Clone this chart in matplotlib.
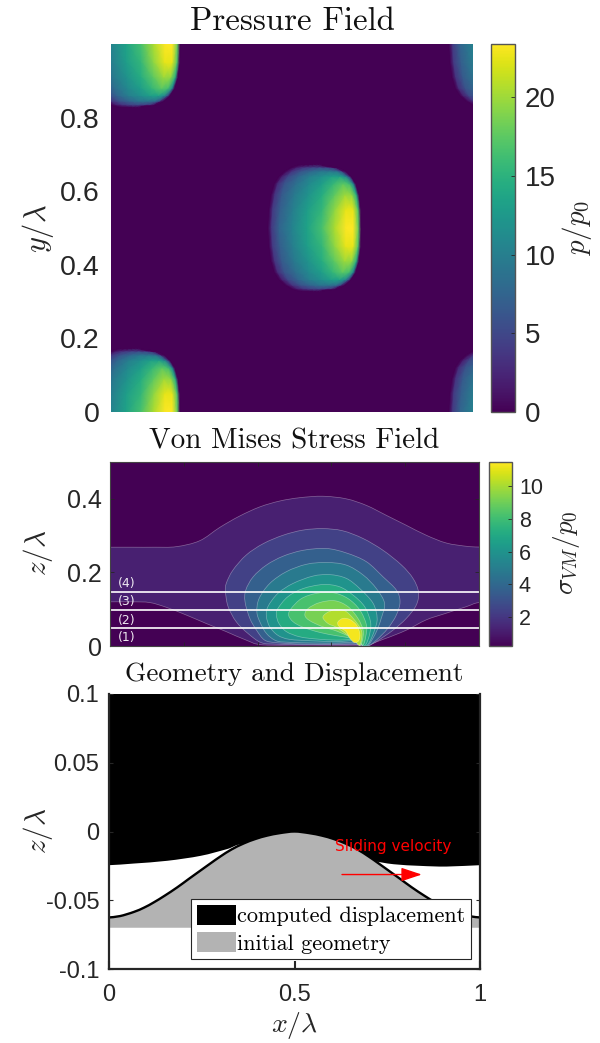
import matplotlib
matplotlib.use('Agg')
import matplotlib.pyplot as plt
from matplotlib.cm import ScalarMappable
from matplotlib.colors import Normalize
from matplotlib.patches import Patch, PathPatch
from matplotlib.path import Path
import numpy as np

plt.rcParams['font.family'] = ['Liberation Sans', 'DejaVu Sans']
plt.rcParams['mathtext.fontset'] = 'cm'
plt.rcParams['axes.formatter.use_mathtext'] = False

# pressure patch (one contact spot, repeated periodically)
# rows go from the middle of the patch to its top edge, each with its own left and right limit
patch_y = [0.0, 0.05, 0.09, 0.12, 0.14, 0.155, 0.165, 0.171]
patch_left = [.434, .437, .443, .452, .465, .482, .50, .52]
patch_right = [.690, .689, .684, .675, .662, .645, .625, .585]
patch_frac = [0, .04, .12, .26, .42, .58, .72, .84, .92, .975, 1]
patch_p = [
    [0, 4.0, 7.5, 10.5, 13.5, 16.5, 20.5, 23.4, 23.4, 18.0, 0],
    [0, 4.0, 7.0, 10.0, 13.0, 15.5, 19.5, 22.5, 22.5, 17.0, 0],
    [0, 3.5, 6.5, 9.5, 12.0, 14.5, 17.5, 20.0, 19.5, 14.5, 0],
    [0, 3.0, 6.0, 8.5, 11.0, 13.0, 15.5, 17.5, 16.5, 11.0, 0],
    [0, 2.0, 5.0, 7.5, 10.0, 11.5, 13.0, 13.5, 11.5, 6.0, 0],
    [0, 1.0, 3.5, 6.0, 7.5, 9.0, 9.0, 8.5, 6.0, 1.0, 0],
    [0, 0.5, 2.0, 3.5, 4.5, 5.0, 4.5, 3.5, 1.5, 0, 0],
    [0, 0, 0, 0, 0, 0, 0, 0, 0, 0, 0],
]
patch_shifts = [(0, 0), (-0.5, -0.5), (0.5, -0.5), (-0.5, 0.5), (0.5, 0.5)]
p_max = 23.4

# von Mises iso-contours
vm_levels = [1.2, 2.4, 3.6, 4.8, 6.0, 7.1, 8.2, 9.2, 10.2, 11.3]
vm_x = [
    [-.06, 0, .06, .12, .180, .243, .297, .351, .406, .460, .514, .577, .640, .695, .749, .803, .857, .911, .966, 1, 1.06,
     1.06, 1, .966, .911, .857, .803, .740, .686, .55, .415, .369, .315, .261, .207, .153, .108, .062, 0, -.06],
    [.320, .313, .315, .333, .369, .415, .469, .523, .577, .631, .686, .740, .790, .821, .836, .830, .803, .767, .722,
     .699, .686, .680, .659, .604, .523, .451, .410, .374, .342],
    [.366, .368, .388, .424, .469, .523, .586, .640, .695, .740, .776, .786, .776, .753, .722,
     .699, .678, .659, .604, .523, .451, .419, .397, .379],
    [.398, .404, .433, .478, .532, .586, .640, .686, .722, .744, .735, .722, .704,
     .695, .678, .659, .613, .550, .487, .451, .424, .406],
    [.424, .428, .455, .496, .550, .595, .640, .677, .713, .724, .717, .704,
     .693, .677, .659, .613, .550, .487, .455, .433],
    [.451, .455, .482, .523, .577, .622, .659, .690, .706, .704, .695,
     .687, .677, .659, .613, .559, .514, .478, .458],
    [.484, .491, .519, .559, .604, .645, .677, .695, .693, .686,
     .675, .654, .613, .568, .523, .496],
    [.528, .537, .568, .609, .645, .672, .686, .684, .677, .669, .650, .613, .577, .541],
    [.577, .586, .609, .636, .659, .681, .681, .675, .663, .645, .613, .591],
    [.618, .631, .650, .668, .677, .675, .663, .650, .640, .627, .618],
]
vm_z = [
    [.2685, .2685, .2685, .2685, .2700, .286, .322, .353, .378, .394, .403, .407, .400, .382, .355, .328, .301, .280, .271, .269, .269,
     .118, .118, .107, .089, .071, .043, .018, .003, .003, .003, .016, .039, .061, .084, .105, .118, .120, .120, .120],
    [.107, .147, .170, .206, .247, .278, .301, .315, .319, .313, .292, .260, .220, .184, .147, .111, .075, .043, .012,
     0, .001, .002, .004, .003, .003, .005, .009, .034, .066],
    [.120, .152, .188, .220, .244, .260, .265, .253, .229, .188, .152, .120, .084, .048, .016,
     0, .003, .006, .005, .005, .009, .016, .043, .075],
    [.093, .129, .170, .202, .222, .227, .220, .193, .156, .116, .075, .039, .007,
     0, .005, .010, .008, .008, .010, .014, .034, .066],
    [.080, .107, .143, .170, .190, .194, .184, .156, .116, .075, .043, .012,
     0, .006, .014, .012, .014, .018, .029, .052],
    [.084, .102, .134, .156, .167, .161, .138, .107, .066, .034, .007,
     0, .009, .017, .016, .019, .025, .039, .061],
    [.084, .102, .129, .143, .145, .129, .098, .057, .025, .003,
     .012, .021, .028, .037, .051, .066],
    [.084, .102, .118, .123, .107, .075, .043, .016, 0, .014, .025, .041, .052, .069],
    [.077, .089, .099, .096, .075, .043, .016, .002, .014, .029, .051, .061],
    [.066, .075, .072, .057, .034, .016, .009, .021, .039, .048, .057],
]
vm_min = 0.2
vm_max = 11.5
layer_z = [0.146, 0.097, 0.048]
layer_names = ['(4)', '(3)', '(2)', '(1)']
layer_name_z = [0.170, 0.121, 0.069, 0.0235]

# geometry
surf_x = [0, .03, .067, .095, .121, .15, .184, .215, .247, .275, .30, .33, .363, .395, .426, .46, .50,
          .54, .574, .605, .637, .67, .70, .725, .753, .785, .816, .85, .879, .905, .933, .97, 1]
surf_z = [-.0625, -.0615, -.0585, -.0553, -.0515, -.0467, -.0406, -.0345, -.0283, -.0229, -.0182, -.0131, -.0087,
          -.0054, -.0030, -.0012, 0,
          -.0012, -.0030, -.0054, -.0087, -.0131, -.0182, -.0229, -.0283, -.0345, -.0406, -.0467, -.0515, -.0553,
          -.0585, -.0615, -.0625]
gap_x = [-.05, 0, .067, .157, .247, .318, .363, .45, .55, .63, .704, .767, .839, .910, 1, 1.05, 1.05, -.05]
gap_z = [-.0245, -.0245, -.0233, -.0213, -.0177, -.0128, -.0092, -.0135, -.0175, -.0200, -.0213, -.0238, -.0250,
         -.0255, -.0245, -.0245, .12, .12]
base_z = -0.07

W, H = 600, 1043
dark = '#262626'


def px_axes(fig, left, top, right, bottom):
    """Axes from a pixel box measured from the top left of the figure."""
    return fig.add_axes([left / W, 1 - bottom / H, (right - left) / W, (bottom - top) / H])


def style_cbar(cax, size, pad):
    cax.yaxis.set_ticks_position('right')
    cax.tick_params(direction='in', length=3, width=0.6, labelsize=size, colors=dark, pad=pad)
    for s in cax.spines.values():
        s.set_edgecolor('#555555')
        s.set_linewidth(1.0)


def smooth_path(xs, ys, closed=True):
    """Bezier path that goes through the given points, so the outlines do not look faceted."""
    pts = np.column_stack([xs, ys])
    n = len(pts)
    if closed:
        before, after = np.roll(pts, 1, axis=0), np.roll(pts, -1, axis=0)
    else:
        before, after = np.vstack([pts[0], pts[:-1]]), np.vstack([pts[1:], pts[-1]])
    tang = (after - before) / 6
    verts = [pts[0]]
    codes = [Path.MOVETO]
    for i in range(n if closed else n - 1):
        j = (i + 1) % n
        verts += [pts[i] + tang[i], pts[j] - tang[j], pts[j]]
        codes += [Path.CURVE4] * 3
    return Path(verts, codes)


fig = plt.figure(figsize=(W / 100, H / 100), dpi=100)
cmap = plt.get_cmap('viridis')

# --- pressure field
ax1 = px_axes(fig, 111, 44, 473, 412)
ax1.set_facecolor(cmap(0.0))
rows = np.array(patch_p, dtype=float)
full_p = np.vstack([rows[:0:-1], rows])
half_y = np.array(patch_y)
full_y = np.concatenate([0.5 - half_y[:0:-1], 0.5 + half_y])
left_edge = np.array(patch_left[:0:-1] + patch_left)
right_edge = np.array(patch_right[:0:-1] + patch_right)
mesh_x = left_edge[:, None] + np.outer(right_edge - left_edge, patch_frac)
mesh_y = np.repeat(full_y[:, None], len(patch_frac), axis=1)
for dx, dy in patch_shifts:
    ax1.pcolormesh(mesh_x + dx, mesh_y + dy, full_p, shading='gouraud',
                   cmap=cmap, vmin=0, vmax=p_max)
ax1.set_xlim(0, 1)
ax1.set_ylim(0, 1)
ax1.set_xticks([])
ax1.set_yticks([0, 0.2, 0.4, 0.6, 0.8])
ax1.set_yticklabels(['0', '0.2', '0.4', '0.6', '0.8'])
ax1.tick_params(axis='y', length=0, labelsize=20.5, colors=dark, pad=8)
for s in ax1.spines.values():
    s.set_visible(False)
ax1.set_title('Pressure Field', family='cmr10', fontsize=23.6, pad=10, color='#111111')
fig.text(38 / W, 1 - 228 / H, r'$y/\lambda$', fontsize=22, rotation=90, ha='center', va='center', color=dark)

cax1 = px_axes(fig, 491, 44, 515, 412)
fig.colorbar(ScalarMappable(Normalize(0, p_max), cmap), cax=cax1, ticks=[0, 5, 10, 15, 20])
style_cbar(cax1, 20, 7)
cax1.set_yticklabels(['0', '5', '10', '15', '20'])
fig.text(577 / W, 1 - 228 / H, r'$p/p_0$', fontsize=21, rotation=90, ha='center', va='center', color=dark)

# --- von Mises field
ax2 = px_axes(fig, 110, 462, 479, 646)
vm_norm = Normalize(vm_min, vm_max)
ax2.set_facecolor(cmap(0.0))
for level, xs, zs in zip(vm_levels, vm_x, vm_z):
    ax2.add_patch(PathPatch(smooth_path(xs, zs), facecolor=cmap(vm_norm(level)),
                            edgecolor=(1, 1, 1, 0.35), linewidth=0.5))
for z in layer_z:
    ax2.axhline(z, color='white', linewidth=1.2)
for name, z in zip(layer_names, layer_name_z):
    ax2.text(0.044, z, name, family='DejaVu Sans', color='white', fontsize=9, ha='center', va='center', alpha=0.9)
ax2.set_xlim(0, 1)
ax2.set_ylim(0, 0.5)
ax2.set_xticks([0.2, 0.4, 0.6, 0.8])
ax2.set_xticklabels([])
ax2.set_yticks([0, 0.2, 0.4])
ax2.set_yticklabels(['0', '0.2', '0.4'])
ax2.tick_params(direction='in', length=3, width=0.6, top=True, right=True, labelsize=18, colors=dark, pad=6)
for s in ax2.spines.values():
    s.set_edgecolor('#444444')
    s.set_linewidth(0.8)
ax2.set_title('Von Mises Stress Field', family='cmr10', fontsize=20.9, pad=10, color='#111111')
fig.text(38 / W, 1 - 553 / H, r'$z/\lambda$', fontsize=21, rotation=90, ha='center', va='center', color=dark)

cax2 = px_axes(fig, 489, 462, 512, 646)
fig.colorbar(ScalarMappable(vm_norm, cmap), cax=cax2, ticks=[2, 4, 6, 8, 10])
style_cbar(cax2, 15.5, 5)
cax2.set_yticklabels(['2', '4', '6', '8', '10'])
fig.text(567 / W, 1 - 553 / H, r'$\sigma_{VM}/p_0$', fontsize=19.5, rotation=90, ha='center', va='center', color=dark)

# --- geometry and displacement
ax3 = px_axes(fig, 109, 694, 480, 969)
ax3.add_patch(PathPatch(smooth_path(gap_x, gap_z), facecolor='black', edgecolor='none'))
surf_path = smooth_path(surf_x, surf_z, closed=False)
ax3.add_patch(PathPatch(Path(list(surf_path.vertices) + [(1, base_z), (0, base_z), (0, base_z)],
                             list(surf_path.codes) + [Path.LINETO, Path.LINETO, Path.CLOSEPOLY]),
                        facecolor='#b3b3b3', edgecolor='none'))
ax3.add_patch(PathPatch(surf_path, facecolor='none', edgecolor='black', linewidth=1.7))
ax3.text(0.767, -0.0109, 'Sliding velocity', family='DejaVu Sans', color='red', fontsize=11, ha='center', va='center')
ax3.annotate('', xy=(0.843, -0.0313), xytext=(0.628, -0.0313),
             arrowprops=dict(arrowstyle='-|>,head_length=0.9,head_width=0.3', color='red', lw=1.0,
                             shrinkA=0, shrinkB=0, mutation_scale=14))
ax3.set_xlim(0, 1)
ax3.set_ylim(-0.1, 0.1)
ax3.set_xticks([0, 0.5, 1])
ax3.set_xticklabels(['0', '0.5', '1'])
ax3.set_yticks([-0.1, -0.05, 0, 0.05, 0.1])
ax3.set_yticklabels(['-0.1', '-0.05', '0', '0.05', '0.1'])
ax3.tick_params(axis='x', direction='in', length=6, width=1.5, labelsize=17, colors=dark, pad=11)
ax3.tick_params(axis='y', direction='in', length=3, width=0.8, right=True, labelsize=17, colors=dark, pad=7)
for s in ax3.spines.values():
    s.set_edgecolor(dark)
    s.set_linewidth(1.6)
ax3.spines['top'].set_visible(False)
ax3.set_title('Geometry and Displacement', family='cmr10', fontsize=19.6, pad=9, color='#111111')
ax3.set_xlabel(r'$x/\lambda$', fontsize=20, color=dark, labelpad=3)
fig.text(38 / W, 1 - 831 / H, r'$z/\lambda$', fontsize=21, rotation=90, ha='center', va='center', color=dark)

handles = [Patch(facecolor='black', label='computed displacement'),
           Patch(facecolor='#b3b3b3', label='initial geometry')]
leg = ax3.legend(handles=handles, loc='lower right', bbox_to_anchor=((470.7 - 109) / 371, (969 - 959.3) / 275),
                 prop={'family': 'cmr10', 'size': 16}, frameon=True, fancybox=False, framealpha=1,
                 edgecolor=dark, borderpad=0.25, labelspacing=0.26, handlelength=1.75, handleheight=1.0,
                 handletextpad=0.05, borderaxespad=0)
leg.get_frame().set_linewidth(0.8)

plt.savefig('out.png', dpi=100)
